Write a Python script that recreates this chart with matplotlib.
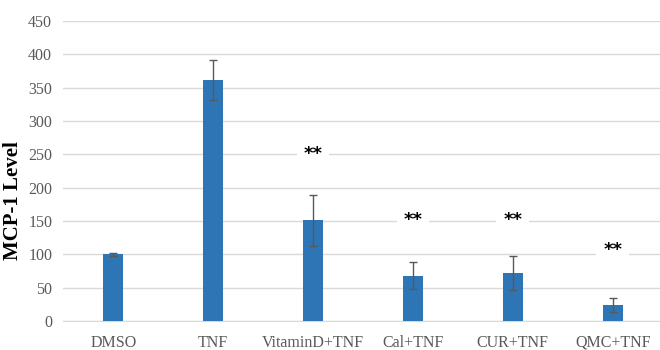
import matplotlib
matplotlib.use('Agg')
import matplotlib.pyplot as plt
import numpy as np

groups = ['DMSO', 'TNF', 'VitaminD+TNF', 'Cal+TNF', 'CUR+TNF', 'QMC+TNF']
levels = [100, 361, 151, 68, 72, 24]
errors = [2.5, 30, 38, 20, 25, 11]
stars = ['', '', '**', '**', '**', '**']
starHeights = [0, 0, 250, 151, 151, 106]

plt.rcParams['font.family'] = ['Liberation Serif', 'DejaVu Serif']

fig = plt.figure(figsize=(6.6, 3.5), dpi=100)
ax = fig.add_axes([0.096, 0.083, 0.908, 0.857])

x = np.arange(len(groups))
ax.bar(x, levels, width=0.2, color='#2e75b6', zorder=3)
ax.errorbar(x, levels, yerr=errors, fmt='none', ecolor='#595959',
            elinewidth=1, capsize=3, capthick=1, zorder=4)

for i, s in enumerate(stars):
    if s:
        ax.text(x[i], starHeights[i], s, ha='center', va='center', fontsize=13,
                fontweight='bold', family='DejaVu Sans', zorder=5,
                bbox=dict(facecolor='white', edgecolor='none', pad=5))

ax.set_xlim(-0.5, 5.5)
ax.set_ylim(0, 450)
ax.set_yticks(np.arange(0, 451, 50))
ax.set_xticks(x)
ax.set_xticklabels(groups)
ax.yaxis.grid(True, color='#d9d9d9', linewidth=1, zorder=0)
ax.set_axisbelow(True)
for side in ['top', 'right', 'left']:
    ax.spines[side].set_visible(False)
ax.spines['bottom'].set_color('#d9d9d9')
ax.tick_params(axis='both', length=0, colors='#595959', labelsize=11.5)
ax.tick_params(axis='x', pad=10)
ax.tick_params(axis='y', pad=8)

ax.set_ylabel('MCP-1 Level', fontsize=15, fontweight='bold', color='black')
ax.yaxis.set_label_coords(-0.068, 0.40)

fig.savefig('out.png', dpi=100)
